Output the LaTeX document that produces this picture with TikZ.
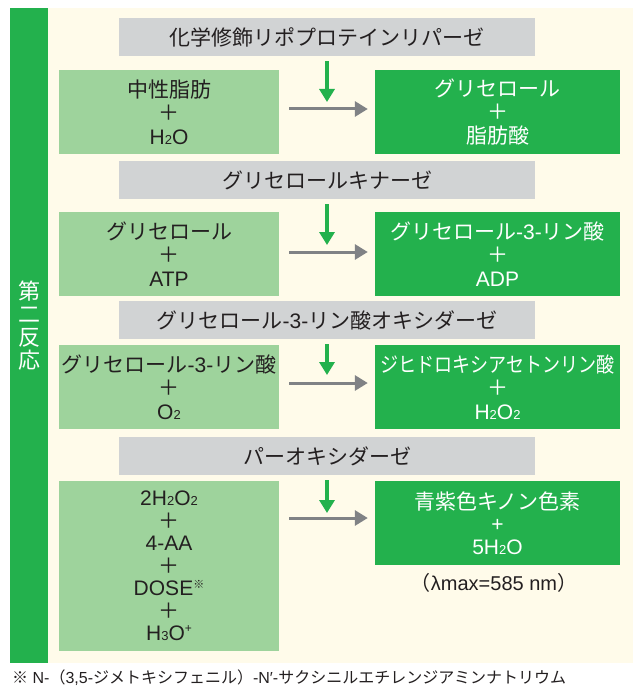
\documentclass[tikz,border=0pt]{standalone}
\usepackage{fontspec}
\setmainfont{Liberation Sans}
\newfontfamily\jpf{Noto Sans CJK JP}
\newcommand\jp[1]{{\jpf #1}}
\newcommand\sbs[1]{{\fontsize{13}{13}\selectfont #1}}
\usetikzlibrary{arrows.meta}
\definecolor{cream}{HTML}{FFFBEA}
\definecolor{dgreen}{HTML}{23B14D}
\definecolor{lgreen}{HTML}{9ED39C}
\definecolor{gbox}{HTML}{D1D3D4}
\definecolor{agray}{HTML}{808285}
\definecolor{ink}{HTML}{231F20}
\begin{document}
\begin{tikzpicture}[x=1pt,y=-1pt,
  enzyme/.style={fill=gbox, minimum width=416pt, minimum height=38pt, inner sep=0pt, text=ink, font=\fontsize{21}{23.5}\selectfont},
  substrate/.style={fill=lgreen, minimum width=220pt, minimum height=84pt, inner sep=0pt, text=ink, align=center, font=\fontsize{21}{23.5}\selectfont},
  product/.style={fill=dgreen, minimum width=245pt, minimum height=84pt, inner sep=0pt, text=white, align=center, font=\fontsize{21}{23.5}\selectfont},
  downarrow/.style={draw=dgreen, line width=4pt, shorten <=5pt, -{Triangle[length=13pt,width=15pt]}},
  rarrow/.style={draw=agray, line width=3pt, shorten <=10pt, shorten >=7pt, -{Triangle[length=13pt,width=15pt]}},
]
\useasboundingbox (0,0) rectangle (640,695);
\fill[cream] (10,8) rectangle (633,663);
\node[fill=dgreen, minimum width=38pt, minimum height=655pt, inner sep=0pt] (bar) at (29,335.5) {};
\node[text=white, align=center, inner sep=0pt, font=\jpf\fontsize{22}{23}\selectfont] (side) at (29,326) {第\\二\\反\\応};

\node[enzyme] (g1) at (327,37) {\jp{化学修飾リポプロテインリパーゼ}};
\node[enzyme] (g2) at (327,180) {\jp{グリセロールキナーゼ}};
\node[enzyme] (g3) at (327,320) {\jp{グリセロール}-3-\jp{リン酸オキシダーゼ}};
\node[enzyme] (g4) at (327,456) {\jp{パーオキシダーゼ}};

\node[substrate] (s1) at (169,112) {\jp{中性脂肪}\\\jp{＋}\\H\sbs{2}O};
\node[substrate] (s2) at (169,254) {\jp{グリセロール}\\\jp{＋}\\ATP};
\node[substrate] (s3) at (169,387) {\jp{グリセロール}-3-\jp{リン酸}\\\jp{＋}\\O\sbs{2}};
\node[substrate, minimum height=170pt, font=\fontsize{21}{22.5}\selectfont] (s4) at (169,566)
  {2H\sbs{2}O\sbs{2}\\\jp{＋}\\4-AA\\\jp{＋}\\DOSE\raisebox{7pt}{\jp{\fontsize{11}{11}\selectfont ※}}\\\jp{＋}\\H\sbs{3}O\raisebox{8pt}{\fontsize{12}{12}\selectfont +}};

\node[product] (p1) at (497.5,112) {\jp{グリセロール}\\\jp{＋}\\\jp{脂肪酸}};
\node[product] (p2) at (497.5,254) {\jp{グリセロール}-3-\jp{リン酸}\\\jp{＋}\\ADP};
\node[product] (p3) at (497.5,387) {\scalebox{0.86}[1]{\jp{ジヒドロキシアセトンリン酸}}\\\jp{＋}\\H\sbs{2}O\sbs{2}};
\node[product, font=\fontsize{21}{22.5}\selectfont] (p4) at (497.5,523) {\jp{青紫色キノン色素}\\+\\5H\sbs{2}O};
\node[text=ink, inner sep=0pt, font=\fontsize{20}{20}\selectfont] (lam) at (494,583) {\jp{（}λmax=585 nm\jp{）}};

\coordinate (d1) at (327,102);
\coordinate (d2) at (327,245);
\coordinate (d3) at (327,375);
\coordinate (d4) at (327,513);
\draw[downarrow] (g1.south) -- (d1);
\draw[downarrow] (g2.south) -- (d2);
\draw[downarrow] (g3.south) -- (d3);
\draw[downarrow] (g4.south) -- (d4);

\coordinate (h1) at (0,109);
\coordinate (h2) at (0,252);
\coordinate (h3) at (0,383);
\coordinate (h4) at (0,518);
\draw[rarrow] (s1.east |- h1) -- (p1.west |- h1);
\draw[rarrow] (s2.east |- h2) -- (p2.west |- h2);
\draw[rarrow] (s3.east |- h3) -- (p3.west |- h3);
\draw[rarrow] (s4.east |- h4) -- (p4.west |- h4);

\node[anchor=west, text=ink, inner sep=0pt, font=\fontsize{16}{16}\selectfont] (fn) at (12,678)
  {\jp{※} N-\jp{（}3,5-\jp{ジメトキシフェニル）}-N′-\jp{サクシニルエチレンジアミンナトリウム}};
\end{tikzpicture}
\end{document}
